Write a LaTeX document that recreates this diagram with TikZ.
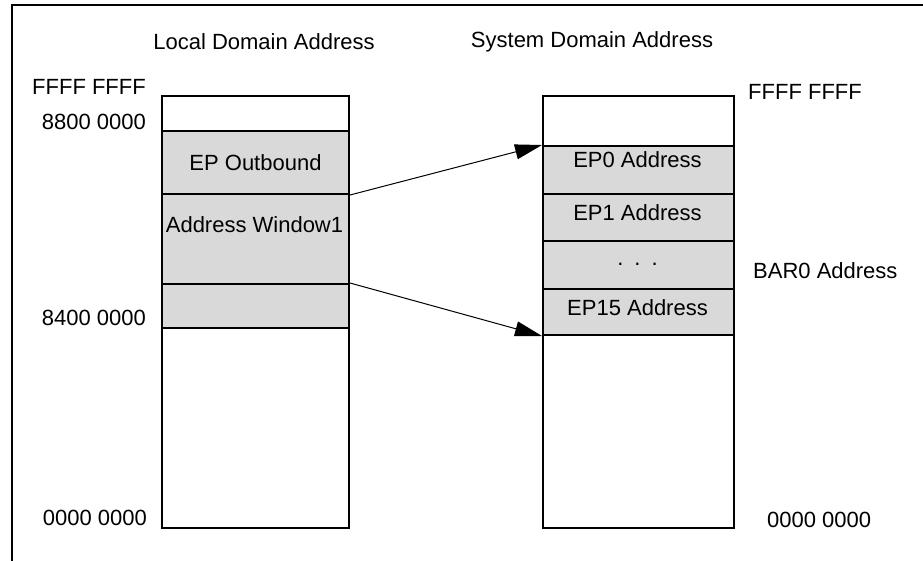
\documentclass[tikz,border=0pt]{standalone}
\usepackage{fontspec}
\setmainfont{Liberation Sans}
\usepackage{tikz}
\usetikzlibrary{arrows.meta,positioning}

\definecolor{rowgray}{HTML}{D9D9D9}

\tikzset{
  seg/.style={draw, line width=2pt, anchor=north west, inner sep=0pt},
  segfill/.style={seg, fill=rowgray},
  addr/.style={inner sep=0pt},
  maparrow/.style={line width=1pt, -{Triangle[length=27pt,width=15pt]}}
}

\begin{document}
\begin{tikzpicture}[x=1pt,y=-1pt,font=\fontsize{22}{26}\selectfont]
                \useasboundingbox (0,0) rectangle (923,560);
                \clip (0,0) rectangle (923,560);
                \draw [line width=2pt] (12,5) rectangle (940,580);

                % headers
                \node (lochead) at (264,42) {Local Domain Address};
                \node (syshead) at (592,42) {System Domain Address};

                % local domain column
                \node [seg, minimum width=187pt, minimum height=35pt] (ltop) at (161,95) {};
                \node [segfill, minimum width=187pt, minimum height=63pt] (lout) at (161,130) {};
                \node [segfill, minimum width=187pt, minimum height=90pt] (lwin) at (161,193) {};
                \node [segfill, minimum width=187pt, minimum height=44pt] (lpart) at (161,283) {};
                \node [seg, minimum width=187pt, minimum height=200pt] (lbot) at (161,327) {};
                \node (louttxt) at (lout.center) {EP Outbound};
                \node (lwintxt) at (254.5,225) {Address Window1};

                % system domain column
                \node [seg, minimum width=191pt, minimum height=50pt] (rtop) at (542,95) {};
                \node [segfill, minimum width=191pt, minimum height=48pt] (rep0) at (542,145) {};
                \node [segfill, minimum width=191pt, minimum height=47pt] (rep1) at (542,193) {};
                \node [segfill, minimum width=191pt, minimum height=48pt] (rdots) at (542,240) {};
                \node [segfill, minimum width=191pt, minimum height=46pt] (rep15) at (542,288) {};
                \node [seg, minimum width=191pt, minimum height=193pt] (rbot) at (542,334) {};
                \node (rep0txt) at (637.5,160) {EP0 Address};
                \node (rep1txt) at (637.5,213) {EP1 Address};
                \node (rdotstxt) at (637.5,264) {.\enspace.\enspace.};
                \node (rep15txt) at (637.5,308) {EP15 Address};

                % addresses
                \node [addr, anchor=east] (lffff) at (146,87) {FFFF FFFF};
                \node [addr, anchor=east] (l8800) at (146,122) {8800 0000};
                \node [addr, anchor=east] (l8400) at (146,318) {8400 0000};
                \node [addr, anchor=east] (lzero) at (147,518) {0000 0000};
                \node [addr, anchor=west] (rffff) at (748,92) {FFFF FFFF};
                \node [addr, anchor=west] (rbar) at (753,271) {BAR0 Address};
                \node [addr, anchor=west] (rzero) at (767,520) {0000 0000};

                % mapping
                \draw [maparrow] (lout.south east) -- (rep0.north west);
                \draw [maparrow] (lpart.north east) -- (rep15.south west);
            \end{tikzpicture}
\end{document}
